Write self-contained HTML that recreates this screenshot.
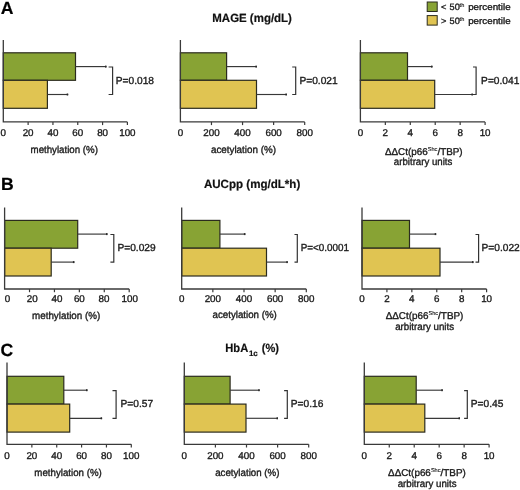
<!DOCTYPE html><html><head><meta charset="utf-8"><style>
html,body{margin:0;padding:0;background:#fff;}
svg{display:block;will-change:transform;text-rendering:geometricPrecision;font-family:"Liberation Sans",sans-serif;}
.t{font-size:9.8px;fill:#1a1a1a;stroke:#1a1a1a;stroke-width:0.35px;}
.lab{font-size:10.2px;fill:#1a1a1a;stroke:#1a1a1a;stroke-width:0.35px;}
.p{font-size:10.2px;fill:#1a1a1a;stroke:#1a1a1a;stroke-width:0.35px;}
.ttl{font-size:11.9px;font-weight:bold;fill:#111;stroke:#111;stroke-width:0.2px;}
.pl{font-size:17.6px;font-weight:bold;fill:#000;stroke:#000;stroke-width:0.2px;}
.lg{font-size:9.2px;fill:#1a1a1a;stroke:#1a1a1a;stroke-width:0.35px;}
.lgs{font-size:5.6px;fill:#1a1a1a;stroke:#1a1a1a;stroke-width:0.15px;}
</style></head><body>
<svg width="520" height="490" viewBox="0 0 520 490">
<rect width="520" height="490" fill="#fff"/>
<text class="pl" x="0.7" y="13.5">A</text>
<text class="pl" x="0.9" y="189.5">B</text>
<text class="pl" x="0.5" y="355.6">C</text>
<text class="ttl" x="252.1" y="21.9" text-anchor="middle" textLength="79.6" lengthAdjust="spacingAndGlyphs">MAGE (mg/dL)</text>
<text class="ttl" x="252.1" y="188" text-anchor="middle" textLength="96.4" lengthAdjust="spacingAndGlyphs">AUCpp (mg/dL*h)</text>
<text class="ttl" x="225.3" y="351.7" textLength="22.9" lengthAdjust="spacingAndGlyphs">HbA</text>
<text class="ttl" style="font-size:8px;stroke-width:0.15px" x="248.9" y="355.9">1c</text>
<text class="ttl" x="261.8" y="351.7" textLength="17.2" lengthAdjust="spacingAndGlyphs">(%)</text>
<rect x="427.2" y="2" width="10" height="9.5" fill="#88a334" stroke="#2b2b1e" stroke-width="1"/>
<rect x="427.2" y="15.6" width="10" height="9.5" fill="#e0c452" stroke="#2b2b1e" stroke-width="1"/>
<text class="lg" x="440.9" y="10.1">&lt;</text>
<text class="lg" x="449.6" y="10.1">50</text>
<text class="lgs" x="459.6" y="7.1">th</text>
<text class="lg" x="468.2" y="10.1" textLength="42.4" lengthAdjust="spacingAndGlyphs">percentile</text>
<text class="lg" x="440.9" y="23.6">&gt;</text>
<text class="lg" x="449.6" y="23.6">50</text>
<text class="lgs" x="459.6" y="20.6">th</text>
<text class="lg" x="468.2" y="23.6" textLength="42.4" lengthAdjust="spacingAndGlyphs">percentile</text>
<rect x="3.30" y="52.80" width="72.20" height="27.50" fill="#88a334" stroke="#2b2b1e" stroke-width="1.2"/>
<rect x="3.30" y="80.30" width="44.10" height="28.00" fill="#e0c452" stroke="#2b2b1e" stroke-width="1.2"/>
<line x1="75.50" y1="66.60" x2="106.50" y2="66.60" stroke="#383838" stroke-width="1.15"/>
<rect x="105.00" y="65.60" width="1.5" height="2.0" fill="#2a2a2a"/>
<line x1="47.40" y1="94.50" x2="68.20" y2="94.50" stroke="#383838" stroke-width="1.15"/>
<rect x="66.70" y="93.50" width="1.5" height="2.0" fill="#2a2a2a"/>
<path d="M3.30 40.00 V121.90 H127.40" fill="none" stroke="#3a3a3a" stroke-width="1.3"/>
<text class="t" x="3.30" y="135.50" text-anchor="middle">0</text>
<line x1="28.12" y1="121.90" x2="28.12" y2="125.10" stroke="#3a3a3a" stroke-width="1.2"/>
<text class="t" x="28.12" y="135.50" text-anchor="middle">20</text>
<line x1="52.94" y1="121.90" x2="52.94" y2="125.10" stroke="#3a3a3a" stroke-width="1.2"/>
<text class="t" x="52.94" y="135.50" text-anchor="middle">40</text>
<line x1="77.76" y1="121.90" x2="77.76" y2="125.10" stroke="#3a3a3a" stroke-width="1.2"/>
<text class="t" x="77.76" y="135.50" text-anchor="middle">60</text>
<line x1="102.58" y1="121.90" x2="102.58" y2="125.10" stroke="#3a3a3a" stroke-width="1.2"/>
<text class="t" x="102.58" y="135.50" text-anchor="middle">80</text>
<line x1="127.40" y1="121.90" x2="127.40" y2="125.10" stroke="#3a3a3a" stroke-width="1.2"/>
<text class="t" x="127.40" y="135.50" text-anchor="middle">100</text>
<path d="M108.60 67.00 H112.60 V94.50 H108.60" fill="none" stroke="#333" stroke-width="1.2"/>
<text class="p" x="115.80" y="83.70">P=0.018</text>
<text class="lab" x="30.55" y="152.80" textLength="67.40" lengthAdjust="spacingAndGlyphs">methylation (%)</text>
<rect x="180.40" y="52.80" width="46.20" height="27.50" fill="#88a334" stroke="#2b2b1e" stroke-width="1.2"/>
<rect x="180.40" y="80.30" width="76.10" height="28.00" fill="#e0c452" stroke="#2b2b1e" stroke-width="1.2"/>
<line x1="226.60" y1="66.60" x2="256.90" y2="66.60" stroke="#383838" stroke-width="1.15"/>
<rect x="255.40" y="65.60" width="1.5" height="2.0" fill="#2a2a2a"/>
<line x1="256.50" y1="94.50" x2="286.90" y2="94.50" stroke="#383838" stroke-width="1.15"/>
<rect x="285.40" y="93.50" width="1.5" height="2.0" fill="#2a2a2a"/>
<path d="M180.40 40.00 V121.90 H304.70" fill="none" stroke="#3a3a3a" stroke-width="1.3"/>
<text class="t" x="180.40" y="135.50" text-anchor="middle">0</text>
<line x1="211.47" y1="121.90" x2="211.47" y2="125.10" stroke="#3a3a3a" stroke-width="1.2"/>
<text class="t" x="211.47" y="135.50" text-anchor="middle">200</text>
<line x1="242.55" y1="121.90" x2="242.55" y2="125.10" stroke="#3a3a3a" stroke-width="1.2"/>
<text class="t" x="242.55" y="135.50" text-anchor="middle">400</text>
<line x1="273.62" y1="121.90" x2="273.62" y2="125.10" stroke="#3a3a3a" stroke-width="1.2"/>
<text class="t" x="273.62" y="135.50" text-anchor="middle">600</text>
<line x1="304.70" y1="121.90" x2="304.70" y2="125.10" stroke="#3a3a3a" stroke-width="1.2"/>
<text class="t" x="304.70" y="135.50" text-anchor="middle">800</text>
<path d="M292.20 67.00 H295.70 V94.50 H292.20" fill="none" stroke="#333" stroke-width="1.2"/>
<text class="p" x="299.40" y="83.70">P=0.021</text>
<text class="lab" x="210.95" y="152.80" textLength="65.00" lengthAdjust="spacingAndGlyphs">acetylation (%)</text>
<rect x="360.40" y="52.80" width="47.10" height="27.50" fill="#88a334" stroke="#2b2b1e" stroke-width="1.2"/>
<rect x="360.40" y="80.30" width="74.30" height="28.00" fill="#e0c452" stroke="#2b2b1e" stroke-width="1.2"/>
<line x1="407.50" y1="66.60" x2="432.50" y2="66.60" stroke="#383838" stroke-width="1.15"/>
<rect x="431.00" y="65.60" width="1.5" height="2.0" fill="#2a2a2a"/>
<line x1="434.70" y1="94.50" x2="472.90" y2="94.50" stroke="#383838" stroke-width="1.15"/>
<rect x="471.40" y="93.50" width="1.5" height="2.0" fill="#2a2a2a"/>
<path d="M360.40 40.00 V121.90 H485.10" fill="none" stroke="#3a3a3a" stroke-width="1.3"/>
<text class="t" x="360.40" y="135.50" text-anchor="middle">0</text>
<line x1="385.34" y1="121.90" x2="385.34" y2="125.10" stroke="#3a3a3a" stroke-width="1.2"/>
<text class="t" x="385.34" y="135.50" text-anchor="middle">2</text>
<line x1="410.28" y1="121.90" x2="410.28" y2="125.10" stroke="#3a3a3a" stroke-width="1.2"/>
<text class="t" x="410.28" y="135.50" text-anchor="middle">4</text>
<line x1="435.22" y1="121.90" x2="435.22" y2="125.10" stroke="#3a3a3a" stroke-width="1.2"/>
<text class="t" x="435.22" y="135.50" text-anchor="middle">6</text>
<line x1="460.16" y1="121.90" x2="460.16" y2="125.10" stroke="#3a3a3a" stroke-width="1.2"/>
<text class="t" x="460.16" y="135.50" text-anchor="middle">8</text>
<line x1="485.10" y1="121.90" x2="485.10" y2="125.10" stroke="#3a3a3a" stroke-width="1.2"/>
<text class="t" x="485.10" y="135.50" text-anchor="middle">10</text>
<path d="M473.00 67.00 H476.10 V94.50 H473.00" fill="none" stroke="#333" stroke-width="1.2"/>
<text class="p" x="481.10" y="83.70">P=0.041</text>
<text class="lab" style="font-size:9.9px" x="423.80" y="154.60" text-anchor="middle">&#916;&#916;Ct(p66<tspan font-size="5.6px" stroke-width="0.12px" dy="-3.8">Shc</tspan><tspan dy="3.8">/TBP)</tspan></text>
<text class="lab" x="393.85" y="165.20" textLength="58.50" lengthAdjust="spacingAndGlyphs">arbitrary units</text>
<rect x="4.60" y="220.40" width="73.10" height="27.80" fill="#88a334" stroke="#2b2b1e" stroke-width="1.2"/>
<rect x="4.60" y="248.20" width="46.60" height="27.80" fill="#e0c452" stroke="#2b2b1e" stroke-width="1.2"/>
<line x1="77.70" y1="234.10" x2="107.50" y2="234.10" stroke="#383838" stroke-width="1.15"/>
<rect x="106.00" y="233.10" width="1.5" height="2.0" fill="#2a2a2a"/>
<line x1="51.20" y1="262.10" x2="74.40" y2="262.10" stroke="#383838" stroke-width="1.15"/>
<rect x="72.90" y="261.10" width="1.5" height="2.0" fill="#2a2a2a"/>
<path d="M4.60 207.40 V289.00 H129.20" fill="none" stroke="#3a3a3a" stroke-width="1.3"/>
<text class="t" x="7.50" y="302.10" text-anchor="middle">0</text>
<line x1="29.52" y1="289.00" x2="29.52" y2="292.20" stroke="#3a3a3a" stroke-width="1.2"/>
<text class="t" x="32.22" y="302.10" text-anchor="middle">20</text>
<line x1="54.44" y1="289.00" x2="54.44" y2="292.20" stroke="#3a3a3a" stroke-width="1.2"/>
<text class="t" x="56.94" y="302.10" text-anchor="middle">40</text>
<line x1="79.36" y1="289.00" x2="79.36" y2="292.20" stroke="#3a3a3a" stroke-width="1.2"/>
<text class="t" x="79.36" y="302.10" text-anchor="middle">60</text>
<line x1="104.28" y1="289.00" x2="104.28" y2="292.20" stroke="#3a3a3a" stroke-width="1.2"/>
<text class="t" x="103.98" y="302.10" text-anchor="middle">80</text>
<line x1="129.20" y1="289.00" x2="129.20" y2="292.20" stroke="#3a3a3a" stroke-width="1.2"/>
<text class="t" x="129.80" y="302.10" text-anchor="middle">100</text>
<path d="M110.40 234.50 H113.80 V262.10 H110.40" fill="none" stroke="#333" stroke-width="1.2"/>
<text class="p" x="117.40" y="250.80">P=0.029</text>
<text class="lab" x="32.05" y="318.80" textLength="68.20" lengthAdjust="spacingAndGlyphs">methylation (%)</text>
<rect x="181.70" y="220.40" width="38.20" height="27.80" fill="#88a334" stroke="#2b2b1e" stroke-width="1.2"/>
<rect x="181.70" y="248.20" width="84.80" height="27.80" fill="#e0c452" stroke="#2b2b1e" stroke-width="1.2"/>
<line x1="219.90" y1="234.10" x2="245.40" y2="234.10" stroke="#383838" stroke-width="1.15"/>
<rect x="243.90" y="233.10" width="1.5" height="2.0" fill="#2a2a2a"/>
<line x1="266.50" y1="262.10" x2="287.80" y2="262.10" stroke="#383838" stroke-width="1.15"/>
<rect x="286.30" y="261.10" width="1.5" height="2.0" fill="#2a2a2a"/>
<path d="M181.70 207.40 V289.00 H306.30" fill="none" stroke="#3a3a3a" stroke-width="1.3"/>
<text class="t" x="181.70" y="302.10" text-anchor="middle">0</text>
<line x1="212.85" y1="289.00" x2="212.85" y2="292.20" stroke="#3a3a3a" stroke-width="1.2"/>
<text class="t" x="212.85" y="302.10" text-anchor="middle">200</text>
<line x1="244.00" y1="289.00" x2="244.00" y2="292.20" stroke="#3a3a3a" stroke-width="1.2"/>
<text class="t" x="244.00" y="302.10" text-anchor="middle">400</text>
<line x1="275.15" y1="289.00" x2="275.15" y2="292.20" stroke="#3a3a3a" stroke-width="1.2"/>
<text class="t" x="275.15" y="302.10" text-anchor="middle">600</text>
<line x1="306.30" y1="289.00" x2="306.30" y2="292.20" stroke="#3a3a3a" stroke-width="1.2"/>
<text class="t" x="306.30" y="302.10" text-anchor="middle">800</text>
<path d="M294.50 234.50 H297.30 V262.10 H294.50" fill="none" stroke="#333" stroke-width="1.2"/>
<text class="p" x="300.70" y="250.80" textLength="48.4" lengthAdjust="spacingAndGlyphs">P=&lt;0.0001</text>
<text class="lab" x="212.55" y="318.40" textLength="64.30" lengthAdjust="spacingAndGlyphs">acetylation (%)</text>
<rect x="362.00" y="220.40" width="47.50" height="27.80" fill="#88a334" stroke="#2b2b1e" stroke-width="1.2"/>
<rect x="362.00" y="248.20" width="78.00" height="27.80" fill="#e0c452" stroke="#2b2b1e" stroke-width="1.2"/>
<line x1="409.50" y1="234.10" x2="436.20" y2="234.10" stroke="#383838" stroke-width="1.15"/>
<rect x="434.70" y="233.10" width="1.5" height="2.0" fill="#2a2a2a"/>
<line x1="440.00" y1="262.10" x2="473.50" y2="262.10" stroke="#383838" stroke-width="1.15"/>
<rect x="472.00" y="261.10" width="1.5" height="2.0" fill="#2a2a2a"/>
<path d="M362.00 207.40 V289.00 H486.60" fill="none" stroke="#3a3a3a" stroke-width="1.3"/>
<text class="t" x="362.00" y="302.10" text-anchor="middle">0</text>
<line x1="386.92" y1="289.00" x2="386.92" y2="292.20" stroke="#3a3a3a" stroke-width="1.2"/>
<text class="t" x="386.92" y="302.10" text-anchor="middle">2</text>
<line x1="411.84" y1="289.00" x2="411.84" y2="292.20" stroke="#3a3a3a" stroke-width="1.2"/>
<text class="t" x="411.84" y="302.10" text-anchor="middle">4</text>
<line x1="436.76" y1="289.00" x2="436.76" y2="292.20" stroke="#3a3a3a" stroke-width="1.2"/>
<text class="t" x="436.76" y="302.10" text-anchor="middle">6</text>
<line x1="461.68" y1="289.00" x2="461.68" y2="292.20" stroke="#3a3a3a" stroke-width="1.2"/>
<text class="t" x="461.68" y="302.10" text-anchor="middle">8</text>
<line x1="486.60" y1="289.00" x2="486.60" y2="292.20" stroke="#3a3a3a" stroke-width="1.2"/>
<text class="t" x="486.60" y="302.10" text-anchor="middle">10</text>
<path d="M475.50 234.50 H478.60 V262.10 H475.50" fill="none" stroke="#333" stroke-width="1.2"/>
<text class="p" x="481.50" y="250.80">P=0.022</text>
<text class="lab" style="font-size:9.9px" x="424.50" y="319.00" text-anchor="middle">&#916;&#916;Ct(p66<tspan font-size="5.6px" stroke-width="0.12px" dy="-3.8">Shc</tspan><tspan dy="3.8">/TBP)</tspan></text>
<text class="lab" x="395.15" y="329.50" textLength="58.90" lengthAdjust="spacingAndGlyphs">arbitrary units</text>
<rect x="7.00" y="376.30" width="56.80" height="27.80" fill="#88a334" stroke="#2b2b1e" stroke-width="1.2"/>
<rect x="7.00" y="404.10" width="62.70" height="28.00" fill="#e0c452" stroke="#2b2b1e" stroke-width="1.2"/>
<line x1="63.80" y1="390.20" x2="87.50" y2="390.20" stroke="#383838" stroke-width="1.15"/>
<rect x="86.00" y="389.20" width="1.5" height="2.0" fill="#2a2a2a"/>
<line x1="69.70" y1="418.30" x2="102.10" y2="418.30" stroke="#383838" stroke-width="1.15"/>
<rect x="100.60" y="417.30" width="1.5" height="2.0" fill="#2a2a2a"/>
<path d="M7.00 362.60 V444.30 H131.30" fill="none" stroke="#3a3a3a" stroke-width="1.3"/>
<text class="t" x="7.00" y="459.00" text-anchor="middle">0</text>
<line x1="31.86" y1="444.30" x2="31.86" y2="447.50" stroke="#3a3a3a" stroke-width="1.2"/>
<text class="t" x="31.86" y="459.00" text-anchor="middle">20</text>
<line x1="56.72" y1="444.30" x2="56.72" y2="447.50" stroke="#3a3a3a" stroke-width="1.2"/>
<text class="t" x="56.72" y="459.00" text-anchor="middle">40</text>
<line x1="81.58" y1="444.30" x2="81.58" y2="447.50" stroke="#3a3a3a" stroke-width="1.2"/>
<text class="t" x="81.58" y="459.00" text-anchor="middle">60</text>
<line x1="106.44" y1="444.30" x2="106.44" y2="447.50" stroke="#3a3a3a" stroke-width="1.2"/>
<text class="t" x="106.44" y="459.00" text-anchor="middle">80</text>
<line x1="131.30" y1="444.30" x2="131.30" y2="447.50" stroke="#3a3a3a" stroke-width="1.2"/>
<text class="t" x="131.30" y="459.00" text-anchor="middle">100</text>
<path d="M112.50 390.60 H116.10 V418.30 H112.50" fill="none" stroke="#333" stroke-width="1.2"/>
<text class="p" x="120.50" y="407.00">P=0.57</text>
<text class="lab" x="34.35" y="476.40" textLength="67.40" lengthAdjust="spacingAndGlyphs">methylation (%)</text>
<rect x="184.30" y="376.30" width="45.80" height="27.80" fill="#88a334" stroke="#2b2b1e" stroke-width="1.2"/>
<rect x="184.30" y="404.10" width="61.70" height="28.00" fill="#e0c452" stroke="#2b2b1e" stroke-width="1.2"/>
<line x1="230.10" y1="390.20" x2="259.70" y2="390.20" stroke="#383838" stroke-width="1.15"/>
<rect x="258.20" y="389.20" width="1.5" height="2.0" fill="#2a2a2a"/>
<line x1="246.00" y1="418.30" x2="278.00" y2="418.30" stroke="#383838" stroke-width="1.15"/>
<rect x="276.50" y="417.30" width="1.5" height="2.0" fill="#2a2a2a"/>
<path d="M184.30 362.60 V444.30 H308.70" fill="none" stroke="#3a3a3a" stroke-width="1.3"/>
<text class="t" x="184.30" y="459.00" text-anchor="middle">0</text>
<line x1="215.40" y1="444.30" x2="215.40" y2="447.50" stroke="#3a3a3a" stroke-width="1.2"/>
<text class="t" x="215.40" y="459.00" text-anchor="middle">200</text>
<line x1="246.50" y1="444.30" x2="246.50" y2="447.50" stroke="#3a3a3a" stroke-width="1.2"/>
<text class="t" x="246.50" y="459.00" text-anchor="middle">400</text>
<line x1="277.60" y1="444.30" x2="277.60" y2="447.50" stroke="#3a3a3a" stroke-width="1.2"/>
<text class="t" x="277.60" y="459.00" text-anchor="middle">600</text>
<line x1="308.70" y1="444.30" x2="308.70" y2="447.50" stroke="#3a3a3a" stroke-width="1.2"/>
<text class="t" x="308.70" y="459.00" text-anchor="middle">800</text>
<path d="M284.10 390.60 H287.30 V418.30 H284.10" fill="none" stroke="#333" stroke-width="1.2"/>
<text class="p" x="290.80" y="407.00">P=0.16</text>
<text class="lab" x="215.15" y="476.00" textLength="64.30" lengthAdjust="spacingAndGlyphs">acetylation (%)</text>
<rect x="364.30" y="376.30" width="51.90" height="27.80" fill="#88a334" stroke="#2b2b1e" stroke-width="1.2"/>
<rect x="364.30" y="404.10" width="60.50" height="28.00" fill="#e0c452" stroke="#2b2b1e" stroke-width="1.2"/>
<line x1="416.20" y1="390.20" x2="442.80" y2="390.20" stroke="#383838" stroke-width="1.15"/>
<rect x="441.30" y="389.20" width="1.5" height="2.0" fill="#2a2a2a"/>
<line x1="424.80" y1="418.30" x2="460.00" y2="418.30" stroke="#383838" stroke-width="1.15"/>
<rect x="458.50" y="417.30" width="1.5" height="2.0" fill="#2a2a2a"/>
<path d="M364.30 362.60 V444.30 H489.10" fill="none" stroke="#3a3a3a" stroke-width="1.3"/>
<text class="t" x="364.30" y="459.00" text-anchor="middle">0</text>
<line x1="389.26" y1="444.30" x2="389.26" y2="447.50" stroke="#3a3a3a" stroke-width="1.2"/>
<text class="t" x="389.26" y="459.00" text-anchor="middle">2</text>
<line x1="414.22" y1="444.30" x2="414.22" y2="447.50" stroke="#3a3a3a" stroke-width="1.2"/>
<text class="t" x="414.22" y="459.00" text-anchor="middle">4</text>
<line x1="439.18" y1="444.30" x2="439.18" y2="447.50" stroke="#3a3a3a" stroke-width="1.2"/>
<text class="t" x="439.18" y="459.00" text-anchor="middle">6</text>
<line x1="464.14" y1="444.30" x2="464.14" y2="447.50" stroke="#3a3a3a" stroke-width="1.2"/>
<text class="t" x="464.14" y="459.00" text-anchor="middle">8</text>
<line x1="489.10" y1="444.30" x2="489.10" y2="447.50" stroke="#3a3a3a" stroke-width="1.2"/>
<text class="t" x="489.10" y="459.00" text-anchor="middle">10</text>
<path d="M464.10 390.60 H467.30 V418.30 H464.10" fill="none" stroke="#333" stroke-width="1.2"/>
<text class="p" x="470.80" y="407.00">P=0.45</text>
<text class="lab" style="font-size:9.9px" x="426.90" y="476.10" text-anchor="middle">&#916;&#916;Ct(p66<tspan font-size="5.6px" stroke-width="0.12px" dy="-3.8">Shc</tspan><tspan dy="3.8">/TBP)</tspan></text>
<text class="lab" x="397.65" y="486.60" textLength="58.90" lengthAdjust="spacingAndGlyphs">arbitrary units</text>
</svg></body></html>
